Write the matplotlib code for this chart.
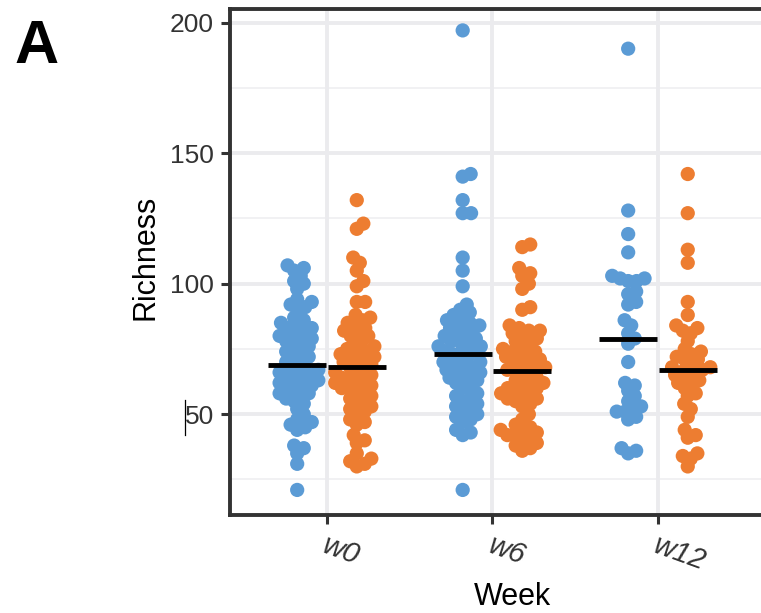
import numpy as np
import matplotlib
matplotlib.use("Agg")
import matplotlib.pyplot as plt
from matplotlib.lines import Line2D
import matplotlib.transforms as mtransforms

plt.rcParams['font.family'] = ['Liberation Sans', 'DejaVu Sans']

# data
weeks = ['w0', 'w6', 'w12']
blue_color = '#5B9BD5'
orange_color = '#ED7D31'

w0_blue = [107, 106, 105, 103, 101, 100, 98, 94, 93, 92, 91, 90, 87, 86, 85, 84, 83, 83,
           82, 81, 80, 79, 79, 78, 77, 76, 75, 74, 73, 72, 71, 70, 69, 68, 67, 66, 66,
           65, 65, 64, 63, 63, 62, 61, 61, 60, 59, 58, 58, 57, 56, 55, 54, 52, 50, 48,
           47, 46, 45, 44, 38, 37, 35, 31, 21]
w0_orange = [132, 123, 121, 110, 108, 105, 101, 99, 93, 93, 88, 87, 86, 85, 84, 83, 82, 81,
             80, 80, 78, 77, 76, 75, 74, 74, 73, 72, 72, 71, 70, 70, 69, 68, 67, 66, 66,
             65, 64, 64, 63, 62, 62, 61, 60, 60, 59, 58, 57, 56, 55, 54, 53, 52, 51, 50,
             48, 47, 46, 42, 40, 39, 35, 33, 32, 31, 30]
w6_blue = [197, 142, 141, 132, 127, 127, 110, 105, 99, 92, 90, 89, 88, 87, 86, 85, 85, 84,
           83, 83, 82, 81, 80, 80, 79, 78, 78, 77, 76, 76, 75, 74, 74, 73, 72, 71, 70, 70,
           69, 68, 68, 67, 66, 66, 65, 64, 64, 63, 62, 61, 60, 58, 57, 56, 55, 54, 53,
           52, 51, 50, 49, 48, 47, 44, 43, 42, 21]
w6_orange = [115, 114, 106, 104, 103, 100, 98, 91, 90, 84, 83, 82, 82, 81, 80, 79, 78, 78,
             76, 75, 74, 74, 73, 72, 72, 71, 70, 70, 69, 68, 68, 67, 67, 66, 65, 64, 63,
             62, 62, 61, 60, 60, 59, 58, 58, 57, 56, 56, 55, 54, 53, 50, 48, 46, 45, 44,
             44, 43, 42, 42, 41, 40, 39, 38, 37, 36]
w12_blue = [190, 128, 119, 112, 103, 102, 102, 101, 101, 97, 96, 93, 92, 86, 84, 81, 79, 77,
            70, 62, 61, 59, 57, 55, 53, 52, 51, 51, 49, 48, 37, 36, 35]
w12_orange = [142, 127, 113, 108, 93, 88, 84, 83, 82, 81, 78, 75, 74, 73, 72, 71, 71, 69, 68,
              68, 67, 67, 66, 65, 64, 63, 62, 61, 60, 58, 57, 54, 52, 49, 44, 42, 41, 35,
              34, 33, 30]

blue_groups = [w0_blue, w6_blue, w12_blue]
orange_groups = [w0_orange, w6_orange, w12_orange]

fig = plt.figure(figsize=(7.61, 6.13), dpi=100)
ax = fig.add_axes([230 / 761, 98 / 613, 540 / 761, 506 / 613])
ax.set_xlim(-0.586, 2.677)
ax.set_ylim(11.4, 205.2)

# grid
for v in [25, 75, 125, 175]:
    ax.axhline(v, color='#f0f0f2', lw=1.3, zorder=0)
for v in [50, 100, 150, 200]:
    ax.axhline(v, color='#ebebee', lw=2.8, zorder=0)
for i in range(len(weeks)):
    ax.axvline(i, color='#ebebee', lw=2.8, zorder=0)


def swarm(values, center, diam_px):
    # simple beeswarm in pixel space, returns x positions in data units
    to_px = ax.transData
    ys = np.array(values, dtype=float)
    order = np.argsort(ys)
    py = to_px.transform(np.column_stack([np.zeros_like(ys), ys]))[:, 1]
    sx = to_px.transform([[1, 0]])[0, 0] - to_px.transform([[0, 0]])[0, 0]
    placed = []
    xs = np.zeros_like(ys)
    for k in order:
        cands = [0.0]
        for (px, pyy) in placed:
            dy = py[k] - pyy
            if abs(dy) < diam_px:
                dx = np.sqrt(diam_px ** 2 - dy ** 2)
                cands += [px + dx, px - dx]
        cands.sort(key=abs)
        for c in cands:
            ok = True
            for (px, pyy) in placed:
                if (c - px) ** 2 + (py[k] - pyy) ** 2 < diam_px ** 2 - 1e-6:
                    ok = False
                    break
            if ok:
                break
        placed.append((c, py[k]))
        xs[k] = center + c / sx
    return xs


dodge = 0.18
for i in range(len(weeks)):
    for vals, col, off in [(blue_groups[i], blue_color, -dodge),
                           (orange_groups[i], orange_color, dodge)]:
        xs = swarm(vals, i + off, 8.4)
        ax.scatter(xs, vals, s=105, color=col, edgecolor='none', zorder=3)
        med = np.median(vals)
        ax.plot([i + off - 0.175, i + off + 0.175], [med, med], color='black',
                lw=3.5, solid_capstyle='butt', zorder=4)

ax.set_xticks(range(len(weeks)))
ax.set_xticklabels(weeks, fontstyle='italic', rotation=-20, ha='left')
ax.set_yticks([50, 100, 150, 200])
ax.tick_params(axis='both', length=6.5, width=2.2, color='#333333',
               labelcolor='#333333', pad=5)
ax.tick_params(axis='y', labelsize=19)
ax.tick_params(axis='x', labelsize=21)
offset = mtransforms.ScaledTranslation(-8 / 100, 0, fig.dpi_scale_trans)
for lab in ax.get_xticklabels():
    lab.set_transform(lab.get_transform() + offset)

for sp in ax.spines.values():
    sp.set_color('#333333')
    sp.set_linewidth(2.8)

ax.set_ylabel('Richness', fontsize=22, color='black')
ax.yaxis.label.set_va('center')
ax.yaxis.set_label_coords(-85 / 540, 0.51)
fig.text(512 / 761, 1 - 597 / 613, 'Week', fontsize=22, ha='center', va='center')

fig.text(14 / 761, 1 - 19 / 613, 'A', fontsize=44, fontweight='bold', va='top', ha='left')

# stray cursor mark next to the 50 label
fig.add_artist(Line2D([185 / 761, 185 / 761], [1 - 400 / 613, 1 - 435 / 613],
                      color='black', lw=0.9))

fig.savefig('out.png', dpi=100)
